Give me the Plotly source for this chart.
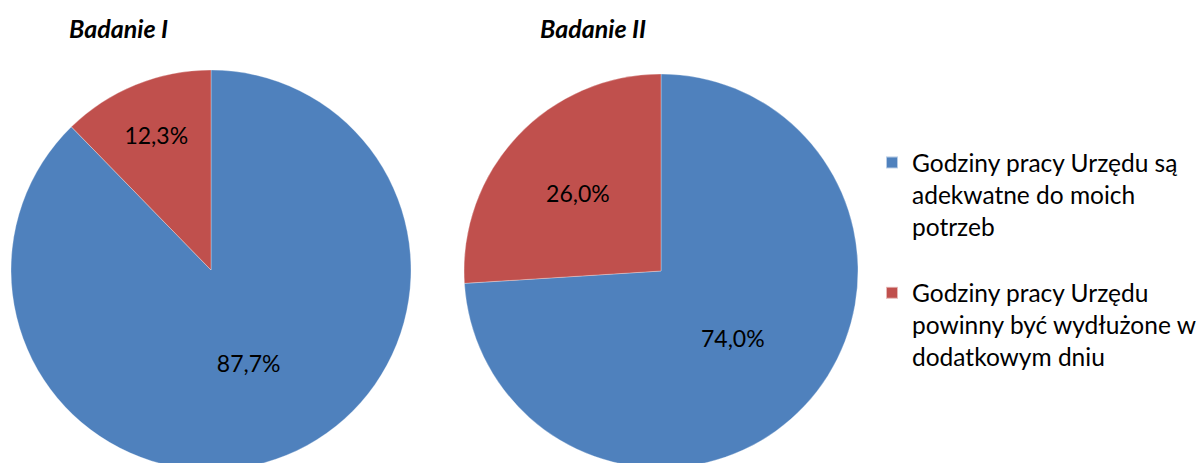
import plotly.graph_objects as go

labels = [
    "Godziny pracy Urzędu są<br>adekwatne do moich<br>potrzeb<br> ",
    "Godziny pracy Urzędu<br>powinny być wydłużone w<br>dodatkowym dniu",
]
titles = ["Badanie I", "Badanie II"]
values_1 = [87.7, 12.3]
values_2 = [74.0, 26.0]
colors = ["#4F81BD", "#C0504D"]

W, H = 1196, 470


def fmt(v):
    return f"{v:.1f}".replace(".", ",") + "%"


def dom(left, top, size):
    return dict(x=[left / W, (left + size) / W], y=[(H - top - size) / H, (H - top) / H])


fig = go.Figure()
for vals, d in [(values_1, dom(11, 70, 400)), (values_2, dom(464, 74, 394))]:
    fig.add_trace(go.Pie(
        labels=labels, values=vals, text=[fmt(v) for v in vals],
        textinfo="text", textposition="inside", insidetextorientation="horizontal",
        sort=False, direction="clockwise", rotation=0,
        marker=dict(colors=colors, line=dict(color="rgba(255,255,255,0.6)", width=0.5)),
        textfont=dict(family="Lato", size=23, color="black"),
        domain=d, hoverinfo="label+percent",
    ))

for t, cx in zip(titles, [118, 593]):
    fig.add_annotation(text=f"<b><i>{t}</i></b>", x=cx / W, y=(H - 28) / H,
                       xref="paper", yref="paper", xanchor="center", yanchor="middle",
                       showarrow=False,
                       font=dict(family="Lato", size=25, color="black"))

fig.update_layout(
    width=W, height=H,
    margin=dict(l=0, r=0, t=0, b=0, autoexpand=False),
    paper_bgcolor="white", plot_bgcolor="white",
    showlegend=True,
    legend=dict(x=872 / W, y=(H - 140) / H, xanchor="left", yanchor="top",
                valign="top", itemsizing="constant",
                font=dict(family="Lato", size=24.5, color="black"),
                bgcolor="rgba(0,0,0,0)"),
)

fig.write_html("out.html")
